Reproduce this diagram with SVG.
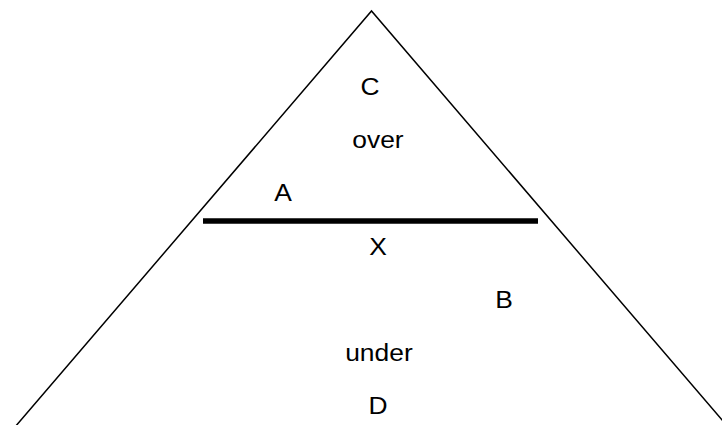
<svg xmlns="http://www.w3.org/2000/svg" width="722" height="425" viewBox="0 0 722 425">
<style>
.t{font-family:"Liberation Sans",Arial,sans-serif;font-size:24px;fill:#000;text-anchor:middle}
.ln{stroke:#000;fill:none}
</style>
<rect width="722" height="425" fill="#fff"/>
<g id="connectors">
<polyline class="ln" stroke-width="1.5" points="12.4,430 371.5,11 730.6,430"/>
<line class="ln" stroke-width="5.5" x1="203" y1="221" x2="538" y2="221"/>
</g>
<g id="labels" transform="scale(1.1,1)">
<text class="t" x="336.4" y="95">C</text>
<text class="t" x="343.6" y="148">over</text>
<text class="t" x="257.3" y="201">A</text>
<text class="t" x="343.6" y="255">X</text>
<text class="t" x="458.2" y="308">B</text>
<text class="t" x="344.5" y="361">under</text>
<text class="t" x="343.6" y="414">D</text>
</g>
</svg>
